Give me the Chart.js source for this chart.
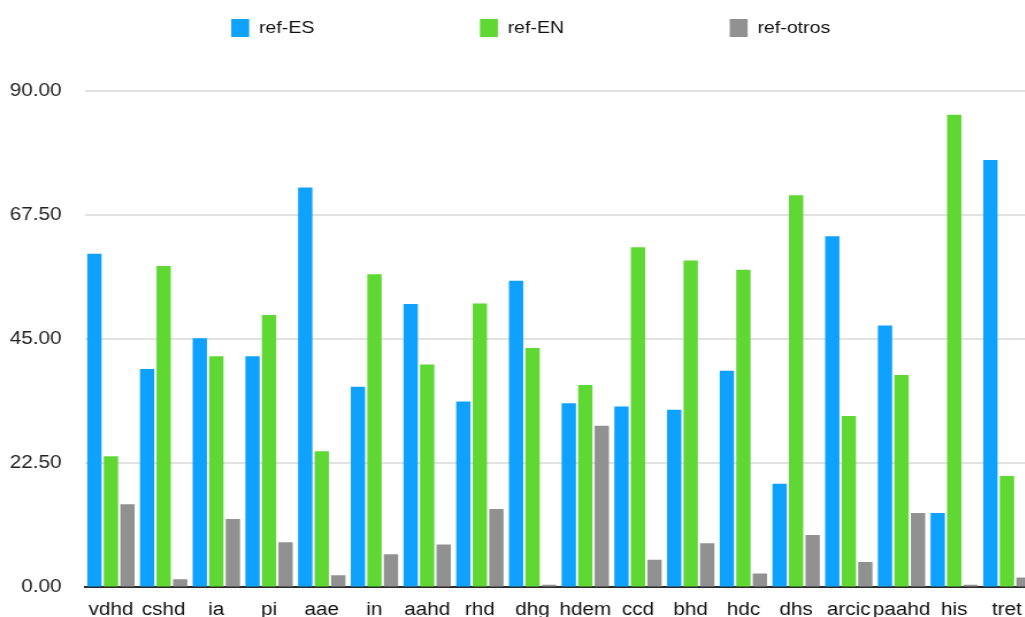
<!DOCTYPE html>
<html>
<head>
<meta charset="utf-8">
<title>ref-ES / ref-EN / ref-otros</title>
<script src="https://cdn.jsdelivr.net/npm/chart.js@4/dist/chart.umd.min.js"></script>
<style>
  html, body { margin: 0; padding: 0; background: #fff; overflow: hidden; }
  /* the source picture is a bit wider than tall text would give, so stretch it */
  #wrap { width: 904px; height: 640px; transform: scaleX(1.15); transform-origin: 0 0; }
</style>
</head>
<body>
<div id="wrap"><canvas id="chart" width="904" height="640"></canvas></div>
<script>
// ===== Data =====

const categories = ["vdhd", "cshd", "ia", "pi", "aae", "in", "aahd", "rhd", "dhg",
  "hdem", "ccd", "bhd", "hdc", "dhs", "arcic", "paahd", "his", "tret"];

const refES = [60.5, 39.6, 45.2, 41.9, 72.5, 36.4, 51.4, 33.7, 55.6,
  33.4, 32.8, 32.2, 39.3, 18.8, 63.7, 47.5, 13.5, 77.5];

const refEN = [23.8, 58.3, 41.9, 49.4, 24.7, 56.8, 40.4, 51.5, 43.4,
  36.7, 61.7, 59.3, 57.6, 71.1, 31.1, 38.5, 85.7, 20.2];

const refOtros = [15.1, 1.5, 12.4, 8.2, 2.2, 6.0, 7.8, 14.2, 0.5,
  29.3, 5.0, 8.0, 2.5, 9.5, 4.6, 13.5, 0.5, 1.8];

const yTicks = [0, 22.5, 45, 67.5, 90];

// ===== Legend nudge =====
// the legend in the source sits a little right of the canvas centre
const legendShift = {
  id: "legendShift",
  afterLayout(chart) {
    chart.legend.left += 18;
    chart.legend.right += 18;
  }
};

// ===== Chart =====

Chart.defaults.font.family = "'Liberation Sans', Arial, Helvetica, sans-serif";
Chart.defaults.color = "#222";

const ctx = document.getElementById("chart").getContext("2d");
new Chart(ctx, {
  type: "bar",
  data: {
    labels: categories,
    datasets: [
      { label: "ref-ES", data: refES, backgroundColor: "#0fa1fe" },
      { label: "ref-EN", data: refEN, backgroundColor: "#5fd834" },
      { label: "ref-otros", data: refOtros, backgroundColor: "#919191" }
    ]
  },
  plugins: [legendShift],
  options: {
    responsive: false,
    animation: false,
    layout: {
      // legend padding is wide for spacing, so pull it back up
      padding: { top: -125, left: -11.5, right: 5.5, bottom: 7 }
    },
    datasets: {
      bar: { categoryPercentage: 0.94, barPercentage: 0.867 }
    },
    plugins: {
      tooltip: { enabled: false },
      legend: {
        position: "top",
        labels: {
          boxWidth: 15.6,
          boxHeight: 18,
          padding: 144,
          color: "#111",
          font: { size: 17 }
        }
      }
    },
    scales: {
      x: {
        grid: { display: false, drawTicks: false },
        border: { display: true, color: "#2a2a2a", width: 2 },
        ticks: { padding: 12, color: "#111", font: { size: 18 }, maxRotation: 0, autoSkip: false }
      },
      y: {
        min: 0,
        max: 98,
        afterBuildTicks: (scale) => {
          scale.ticks = yTicks.map(v => ({ value: v }));
        },
        grid: { color: "#e2e2e2", lineWidth: 2, drawTicks: false },
        border: { display: false },
        ticks: {
          padding: 20,
          color: "#222",
          font: { size: 18 },
          callback: (v) => Number(v).toFixed(2)
        }
      }
    }
  }
});
</script>
</body>
</html>
